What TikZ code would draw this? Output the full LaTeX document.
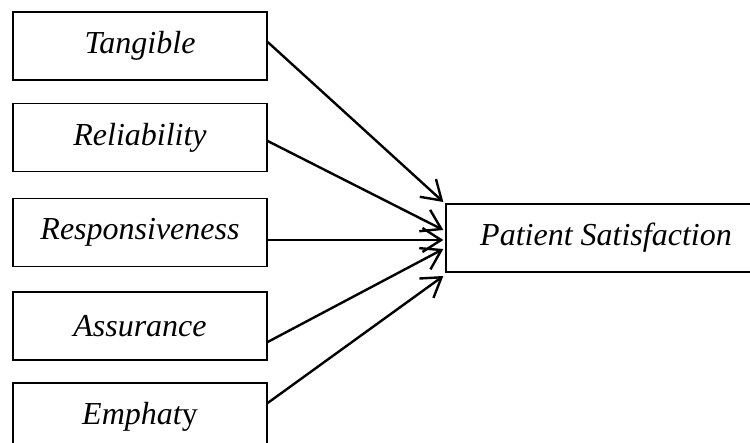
\documentclass[tikz,border=0pt]{standalone}
\usepackage{fontspec}
\setmainfont{Liberation Serif}
\usepackage{tikz}
\usetikzlibrary{arrows.meta, positioning, calc}

\begin{document}
\begin{tikzpicture}[x=0.375pt, y=-0.375pt,
    factor/.style={rectangle, draw, line width=0.5pt, minimum width=95.25pt, minimum height=25.5pt, inner sep=0pt, font=\fontsize{12}{14}\selectfont\itshape},
    outcome/.style={rectangle, draw, line width=0.5pt, minimum width=129pt, minimum height=25.5pt, inner sep=0pt, font=\fontsize{12}{14}\selectfont\itshape},
    arrow/.style={-{Straight Barb[length=7pt, width=9pt]}, line width=0.9pt}]

    \clip (0,0) rectangle (750,443);

    % Service quality dimensions
    \node [factor] (tangible) at (140,46) {Tangible};
    \node [factor] (reliability) at (140,137.5) {Reliability};
    \node [factor] (responsiveness) at (140,232.5) {Responsiveness};
    \node [factor] (assurance) at (140,326) {Assurance};
    \node [factor] (emphaty) at (140,417) {Emphat\upshape y};

    % Outcome
    \node [outcome] (satisfaction) at (618,238) {\hspace*{-9pt}Patient Satisfaction};

    % Arrows
    \draw [arrow] ($(tangible.east)+(0,-4)$) -- ($(satisfaction.west)+(-2,-36)$);
    \draw [arrow] ($(reliability.east)+(0,3.5)$) -- ($(satisfaction.west)+(-2,-8)$);
    \draw [arrow] ($(responsiveness.east)+(0,7.5)$) -- ($(satisfaction.west)+(-2,2)$);
    \draw [arrow] ($(assurance.east)+(0,16)$) -- ($(satisfaction.west)+(-2,11)$);
    \draw [arrow] ($(emphaty.east)+(0,-14)$) -- ($(satisfaction.west)+(-2,38)$);

\end{tikzpicture}
\end{document}
